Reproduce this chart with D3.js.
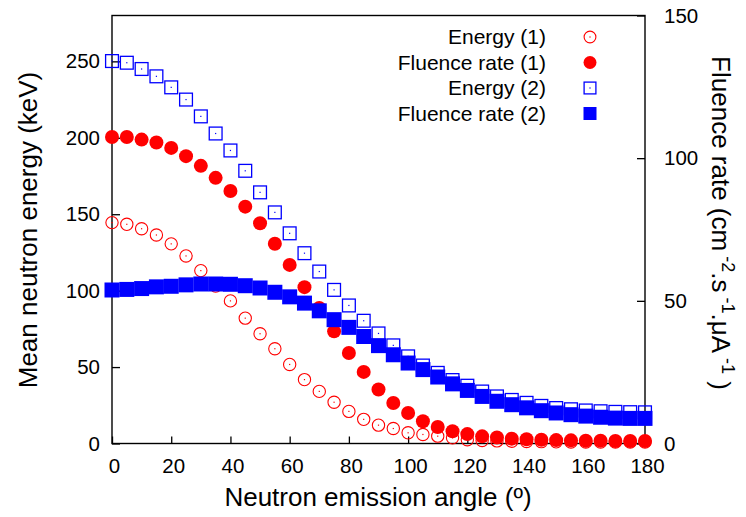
<!DOCTYPE html>
<html>
<head>
<meta charset="utf-8">
<script src="https://cdn.jsdelivr.net/npm/d3@7"></script>
<style>
  body { margin: 0; background: #fff; }
  svg { display: block; font-family: "Liberation Sans", Arial, Helvetica, sans-serif; }
  .tick line { stroke: #000; stroke-width: 1.3; }
  .tick text { fill: #000; font-size: 20.5px; }
</style>
</head>
<body>
<div id="chart"></div>
<script>
// emission angle (deg)
var angles = [0, 5, 10, 15, 20, 25, 30, 35, 40, 45, 50, 55, 60, 65, 70, 75, 80, 85, 90,
  95, 100, 105, 110, 115, 120, 125, 130, 135, 140, 145, 150, 155, 160, 165, 170, 175, 180];

// mean neutron energy, keV (left axis)
var energy1 = [144.5, 143.4, 140.5, 136.4, 130.6, 122.7, 113.1, 103, 93.3, 82, 71.8, 62, 51.7,
  41.8, 34.1, 27, 21, 15.8, 12, 9.8, 7, 5.9, 4.8, 3.7, 2.5, 2, 1.7, 1.5, 1.3, 1.2, 1.1, 1,
  1, 0.9, 0.9, 0.9, 0.9];
var energy2 = [250.2, 249.1, 245, 240.2, 233, 225, 214, 202.8, 191.7, 178.4, 164.3, 151.2, 137.5,
  124.5, 112.5, 100.5, 90.3, 80.3, 72, 64.2, 57, 51, 46.2, 41.5, 37.8, 34, 30.8, 28.5, 26.6,
  24.6, 23.2, 22.4, 21.6, 21.1, 20.7, 20.5, 20.4];

// fluence rate, cm-2.s-1.uA-1 (right axis)
var fluence1 = [107.4, 107.4, 106.5, 105.5, 103.6, 100.7, 97.3, 93.1, 88.5, 83, 77.2, 70, 62.6,
  54.8, 47.5, 39.3, 31.7, 25.1, 18.9, 14.2, 10.7, 7.8, 5.8, 4.3, 3.3, 2.5, 2.1, 1.7, 1.5, 1.3,
  1.2, 1.1, 1, 1, 0.9, 0.9, 0.9];
var fluence2 = [53.8, 54, 54.3, 54.9, 55.1, 55.6, 55.9, 55.9, 55.8, 55.3, 54.5, 53, 51.4, 49.2,
  46.5, 43.4, 40.7, 37.5, 34.3, 31.1, 28.2, 25.9, 23.3, 20.9, 18.6, 16.5, 14.8, 13.6, 12.5,
  11.5, 10.7, 10.1, 9.6, 9.2, 8.9, 8.8, 8.8];

var xTicks = [0, 20, 40, 60, 80, 100, 120, 140, 160, 180];
var leftTicks = [0, 50, 100, 150, 200, 250];
var rightTicks = [0, 50, 100, 150];

var series = [
  {name: "Energy (1)", values: energy1, axis: "left", shape: "circle", filled: false, color: "#ff0000"},
  {name: "Fluence rate (1)", values: fluence1, axis: "right", shape: "circle", filled: true, color: "#ff0000"},
  {name: "Energy (2)", values: energy2, axis: "left", shape: "square", filled: false, color: "#0000ff"},
  {name: "Fluence rate (2)", values: fluence2, axis: "right", shape: "square", filled: true, color: "#0000ff"}
];

var svg = d3.select("#chart").append("svg").attr("width", 746).attr("height", 517),
  margin = {top: 15.5, right: 101, bottom: 73.5, left: 112},
  width = +svg.attr("width") - margin.left - margin.right,
  height = +svg.attr("height") - margin.top - margin.bottom,
  g = svg.append("g").attr("transform", "translate(" + margin.left + "," + margin.top + ")");

var x = d3.scaleLinear().domain([0, 180]).range([0, width]);
var yLeft = d3.scaleLinear().domain([0, 280]).range([height, 0]);
var yRight = d3.scaleLinear().domain([0, 150]).range([height, 0]);

// axes, ticks pointing inward
g.append("g")
  .attr("transform", "translate(0," + height + ")")
  .call(d3.axisBottom(x).tickValues(xTicks).tickSizeInner(-7).tickSizeOuter(0).tickPadding(15))
  .call(function (a) { a.select(".domain").remove(); })
  .selectAll("text").attr("dx", "2");

g.append("g")
  .call(d3.axisLeft(yLeft).tickValues(leftTicks).tickSizeInner(-8).tickSizeOuter(0).tickPadding(12))
  .call(function (a) { a.select(".domain").remove(); });

g.append("g")
  .attr("transform", "translate(" + width + ",0)")
  .call(d3.axisRight(yRight).tickValues(rightTicks).tickSizeInner(-8).tickSizeOuter(0).tickPadding(19))
  .call(function (a) { a.select(".domain").remove(); });

g.append("rect")
  .attr("width", width)
  .attr("height", height)
  .attr("fill", "none")
  .attr("stroke", "#000")
  .attr("stroke-width", 1.4);

function drawMarker(sel, s, size) {
  var r = size / 2;
  if (s.shape === "circle") {
    sel.append("circle")
      .attr("r", s.filled ? r : r - 0.6)
      .attr("fill", s.filled ? s.color : "none")
      .attr("stroke", s.color)
      .attr("stroke-width", s.filled ? 0 : 1.1);
  } else {
    sel.append("rect")
      .attr("x", s.filled ? -r : -r + 0.6)
      .attr("y", s.filled ? -r : -r + 0.6)
      .attr("width", s.filled ? size : size - 1.2)
      .attr("height", s.filled ? size : size - 1.2)
      .attr("fill", s.filled ? s.color : "none")
      .attr("stroke", s.color)
      .attr("stroke-width", s.filled ? 0 : 1.3);
  }
  if (!s.filled) {
    sel.append("rect")
      .attr("x", -0.6).attr("y", -0.6)
      .attr("width", 1.2).attr("height", 1.2)
      .attr("fill", s.color);
  }
}

series.forEach(function (s) {
  var yScale = s.axis === "left" ? yLeft : yRight;
  var size = s.shape === "circle" ? (s.filled ? 14 : 13.5) : (s.filled ? 15 : 14);
  g.append("g")
    .attr("class", "serie")
    .selectAll("g")
    .data(s.values)
    .enter().append("g")
    .attr("transform", function (d, i) {
      return "translate(" + x(angles[i]) + "," + yScale(d) + ")";
    })
    .each(function () {
      drawMarker(d3.select(this), s, size);
    });
});

// legend
var legend = svg.selectAll(".legend")
  .data(series)
  .enter().append("g")
  .attr("class", "legend")
  .attr("transform", function (d, i) {
    return "translate(0," + (37 + i * 25.5) + ")";
  });

legend.append("text")
  .attr("x", 546)
  .attr("dy", "0.35em")
  .attr("text-anchor", "end")
  .style("font-size", "21px")
  .text(function (d) { return d.name; });

legend.each(function (d) {
  var m = d3.select(this).append("g").attr("transform", "translate(590,0)");
  drawMarker(m, d, 13);
});

// axis titles
svg.append("text")
  .attr("x", 378)
  .attr("y", 506)
  .attr("text-anchor", "middle")
  .style("font-size", "26px")
  .text("Neutron emission angle (º)");

svg.append("text")
  .attr("transform", "translate(37,230) rotate(-90)")
  .attr("text-anchor", "middle")
  .style("font-size", "26px")
  .text("Mean neutron energy (keV)");

var rt = svg.append("text")
  .attr("transform", "translate(712,223) rotate(90)")
  .attr("text-anchor", "middle")
  .style("font-size", "26px");
rt.append("tspan").text("Fluence rate (cm");
rt.append("tspan").attr("dy", "-10").style("font-size", "18px").text(" -2");
rt.append("tspan").attr("dy", "10").text(".s");
rt.append("tspan").attr("dy", "-10").style("font-size", "18px").text(" -1");
rt.append("tspan").attr("dy", "10").text(".μA");
rt.append("tspan").attr("dy", "-10").style("font-size", "18px").text(" -1");
rt.append("tspan").attr("dy", "10").text(" )");
</script>
</body>
</html>
